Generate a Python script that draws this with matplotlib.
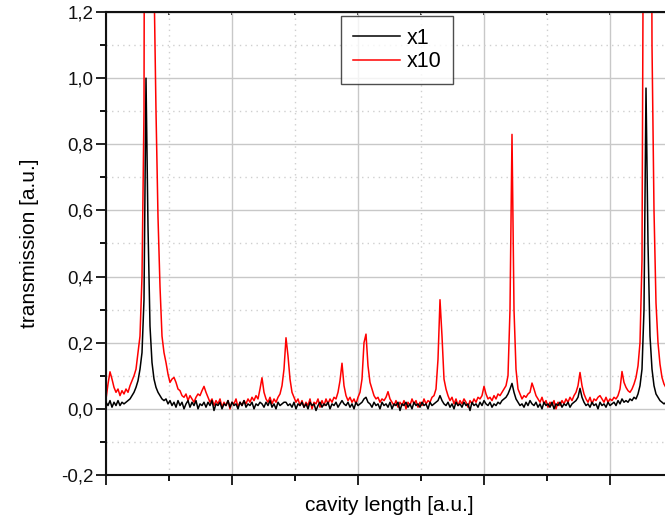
import numpy as np
import matplotlib
matplotlib.use("Agg")
from matplotlib import pyplot as plt
from matplotlib.ticker import MultipleLocator, FuncFormatter

plt.rcParams['font.family'] = ['Liberation Sans', 'DejaVu Sans']

# cavity length axis (a.u.), one sample every 2/126 of a major division
cavity = np.linspace(0.0, 560 / 126, 281)

# transmission, gain x1 (black)
trans_x1 = [
    0.02, 0.01, 0.025, 0.005, 0.02, 0.01, 0.025, 0.01, 0.02, 0.015,
    0.02, 0.025, 0.03, 0.04, 0.05, 0.065, 0.085, 0.12, 0.17, 0.33,
    1.0, 0.55, 0.25, 0.14, 0.09, 0.065, 0.05, 0.04, 0.03, 0.025,
    0.03, 0.015, 0.025, 0.01, 0.02, 0.005, 0.025, 0.01, 0.02, 0.0,
    0.015, 0.025, 0.005, 0.02, 0.01, 0.025, 0.0, 0.015, 0.01, 0.02,
    0.005, 0.02, 0.01, 0.025, -0.005, 0.015, 0.01, 0.02, 0.0, 0.015,
    0.01, 0.025, 0.005, 0.02, 0.01, 0.015, 0.0, 0.02, 0.01, 0.025,
    0.005, 0.015, 0.01, 0.02, 0.0, 0.015, 0.01, 0.02, 0.015, 0.005,
    0.02, 0.01, 0.025, 0.005, 0.015, 0.0, 0.02, 0.01, 0.015, 0.02,
    0.02, 0.01, 0.015, 0.005, 0.02, 0.0, 0.015, 0.01, 0.02, 0.005,
    0.015, 0.0, 0.02, 0.01, 0.015, -0.005, 0.01, 0.02, 0.005, 0.015,
    0.01, 0.02, 0.0, 0.015, 0.01, 0.02, 0.005, 0.015, 0.025, 0.015,
    0.01, 0.02, 0.005, 0.015, 0.0, 0.02, 0.01, 0.015, 0.02, 0.03,
    0.035, 0.02, 0.015, 0.005, 0.02, 0.01, 0.015, 0.0, 0.02, 0.01,
    0.015, 0.005, 0.02, 0.0, 0.015, 0.01, 0.02, -0.005, 0.015, 0.01,
    0.02, 0.005, 0.015, 0.0, 0.02, 0.01, 0.015, 0.005, 0.02, 0.01,
    0.015, 0.0, 0.02, 0.01, 0.015, 0.02, 0.025, 0.04, 0.025, 0.015,
    0.01, 0.02, 0.005, 0.015, 0.0, 0.02, 0.01, 0.015, 0.005, 0.02,
    0.01, 0.015, -0.005, 0.02, 0.01, 0.015, 0.005, 0.02, 0.01, 0.025,
    0.015, 0.01, 0.02, 0.005, 0.015, 0.01, 0.02, 0.015, 0.025, 0.03,
    0.035, 0.045, 0.06, 0.077, 0.05, 0.03, 0.02, 0.01, 0.015, 0.005,
    0.02, 0.01, 0.025, 0.015, 0.01, 0.02, 0.005, 0.015, 0.0, 0.02,
    0.01, 0.015, 0.005, 0.02, 0.0, 0.015, 0.01, 0.02, 0.005, 0.015,
    0.01, 0.02, 0.005, 0.015, 0.02, 0.025, 0.035, 0.062, 0.035, 0.02,
    0.01, 0.015, 0.005, 0.02, 0.01, 0.015, 0.0, 0.02, 0.01, 0.015,
    0.005, 0.02, 0.01, 0.015, 0.02, 0.01, 0.025, 0.015, 0.03, 0.02,
    0.025, 0.02, 0.03, 0.025, 0.035, 0.03, 0.045, 0.07, 0.12, 0.3,
    0.97, 0.5, 0.22, 0.12, 0.07, 0.045, 0.035, 0.025, 0.02, 0.015,
    0.02,
]

# transmission, gain x10 (red)
trans_x10 = [
    0.03, 0.075, 0.112, 0.09, 0.065, 0.05, 0.06, 0.04, 0.055, 0.045,
    0.06, 0.05, 0.07, 0.085, 0.1, 0.12, 0.17, 0.22, 0.4, 0.9,
    4.0, 10.0, 6.0, 2.5, 1.3, 0.9, 0.58, 0.37, 0.22, 0.17,
    0.14, 0.105, 0.08, 0.09, 0.095, 0.08, 0.06, 0.055, 0.04, 0.035,
    0.045, 0.025, 0.04, 0.03, 0.02, 0.035, 0.045, 0.04, 0.055, 0.068,
    0.05, 0.035, 0.02, 0.03, 0.01, 0.025, 0.015, 0.03, 0.005, 0.02,
    0.01, 0.025, 0.0, 0.02, 0.015, 0.03, 0.005, 0.02, 0.01, 0.025,
    0.015, 0.03, 0.02, 0.035, 0.025, 0.04, 0.03, 0.06, 0.094, 0.05,
    0.03, 0.02, 0.035, 0.015, 0.03, 0.02, 0.035, 0.045, 0.07, 0.12,
    0.215, 0.16, 0.09, 0.05, 0.035, 0.02, 0.03, 0.01, 0.025, 0.005,
    0.02, 0.01, 0.03, 0.0, 0.02, 0.015, 0.03, 0.005, 0.025, 0.01,
    0.03, 0.015, 0.03, 0.02, 0.035, 0.03, 0.05, 0.085, 0.138, 0.07,
    0.04, 0.025, 0.035, 0.02, 0.03, 0.015, 0.035, 0.05, 0.09, 0.2,
    0.226, 0.13, 0.08, 0.06, 0.04, 0.03, 0.035, 0.02, 0.03, 0.025,
    0.035, 0.052, 0.03, 0.02, 0.01, 0.025, 0.005, 0.02, 0.01, 0.025,
    0.0, 0.02, 0.01, 0.03, 0.015, 0.025, 0.005, 0.02, 0.01, 0.03,
    0.015, 0.025, 0.02, 0.035, 0.04, 0.06, 0.15, 0.33, 0.22, 0.09,
    0.06, 0.04, 0.025, 0.035, 0.015, 0.03, 0.01, 0.025, 0.015, 0.03,
    0.02, 0.005, 0.025, 0.015, 0.03, 0.02, 0.035, 0.03, 0.04, 0.068,
    0.045, 0.03, 0.035, 0.025, 0.04, 0.03, 0.045, 0.04, 0.05, 0.06,
    0.07, 0.1, 0.3, 0.83, 0.3, 0.12, 0.06, 0.045, 0.03, 0.04,
    0.035, 0.045, 0.05, 0.078, 0.06, 0.04, 0.03, 0.02, 0.035, 0.015,
    0.025, 0.005, 0.02, 0.01, 0.025, 0.0, 0.02, 0.01, 0.025, 0.015,
    0.03, 0.02, 0.035, 0.025, 0.04, 0.05, 0.07, 0.11, 0.07, 0.045,
    0.03, 0.02, 0.035, 0.015, 0.03, 0.025, 0.035, 0.04, 0.03, 0.02,
    0.035, 0.02, 0.03, 0.025, 0.035, 0.03, 0.04, 0.06, 0.113, 0.08,
    0.065, 0.055, 0.05, 0.06, 0.075, 0.095, 0.13, 0.2, 0.45, 2.0,
    8.0, 9.0, 3.0, 1.1, 0.6, 0.32, 0.2, 0.135, 0.095, 0.075,
    0.064,
]

series_labels = ["x1", "x10"]
series_colors = ["black", "red"]

fig = plt.figure(figsize=(6.65, 5.2), dpi=100)
ax = fig.add_axes([106 / 665, 45 / 520, 567 / 665, 463 / 520])

ax.plot(cavity, trans_x1, color=series_colors[0], lw=1.1, label=series_labels[0], zorder=3)
ax.plot(cavity, trans_x10, color=series_colors[1], lw=1.1, label=series_labels[1], zorder=2)

ax.set_xlim(0, 4.5)
ax.set_ylim(-0.2, 1.2)

ax.xaxis.set_major_locator(MultipleLocator(1.0))
ax.xaxis.set_minor_locator(MultipleLocator(0.5))
ax.yaxis.set_major_locator(MultipleLocator(0.2))
ax.yaxis.set_minor_locator(MultipleLocator(0.1))
ax.xaxis.set_major_formatter(FuncFormatter(lambda v, p: ""))
ax.yaxis.set_major_formatter(FuncFormatter(lambda v, p: f"{v:.1f}".replace(".", ",")))

ax.grid(which="major", color="#c8c8c8", lw=1.0, ls="-", zorder=0)
ax.grid(which="minor", color="#cfcfcf", lw=1.0, ls=(0, (1, 3)), zorder=0)
ax.set_axisbelow(True)

ax.tick_params(which="major", direction="out", length=7, width=1.3, labelsize=13.5,
               colors="#111111", pad=2)
ax.tick_params(which="minor", direction="out", length=4, width=1.3)
for side in ["left", "bottom", "top"]:
    ax.spines[side].set_linewidth(1.5)
    ax.spines[side].set_color("#111111")
ax.spines["right"].set_visible(False)

top = ax.secondary_xaxis("top")
top.xaxis.set_major_locator(MultipleLocator(1.0))
top.xaxis.set_minor_locator(MultipleLocator(0.5))
top.tick_params(which="both", direction="in", length=2, width=1.2, labeltop=False)

ax.set_ylabel("transmission [a.u.]", fontsize=15, labelpad=16)
ax.set_xlabel("cavity length [a.u.]", fontsize=15, labelpad=6)

leg = ax.legend(loc="upper left", bbox_to_anchor=(0.414, 0.992), fontsize=15.5,
                frameon=True, fancybox=False, edgecolor="#222222",
                handlelength=2.2, handletextpad=0.3, borderpad=0.55,
                labelspacing=0.12, borderaxespad=0.0)
leg.get_frame().set_linewidth(1.0)

fig.savefig("out.png", dpi=100)
